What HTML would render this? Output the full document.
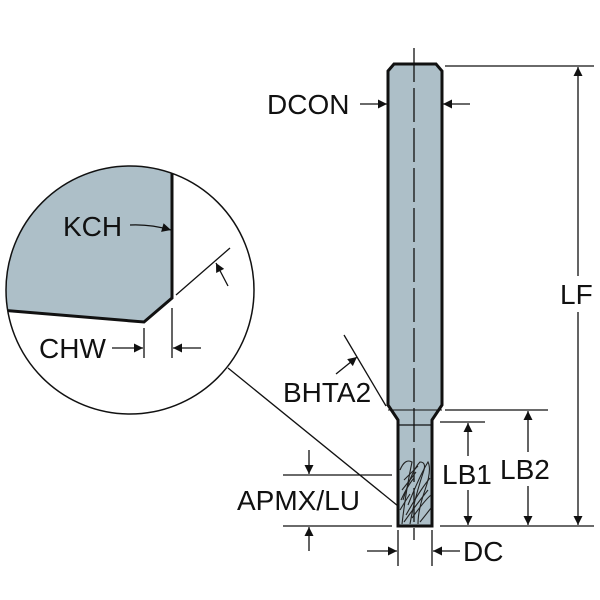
<!DOCTYPE html>
<html><head><style>body{margin:0;background:#fff}svg{display:block}text{font-family:"Liberation Sans",Arial,sans-serif;font-size:28px;fill:#111}</style></head>
<body>
<svg width="600" height="600" viewBox="0 0 600 600" xmlns="http://www.w3.org/2000/svg">
<defs>
<marker id="a" viewBox="0 0 10 10" refX="10" refY="5" markerWidth="17" markerHeight="9" markerUnits="userSpaceOnUse" orient="auto"><path d="M0,0L10,5L0,10z" fill="#111"/></marker>
<clipPath id="c"><circle cx="130" cy="290" r="124"/></clipPath>
</defs>
<g clip-path="url(#c)">
<path d="M0,150 L172,150 L172,298 L144,322 L0,310 Z" fill="#adbfc8"/>
<path d="M172,150 L172,298 L144,322 L0,310" fill="none" stroke="#111" stroke-width="3"/>
<line x1="176" y1="295" x2="230" y2="248" stroke="#111" stroke-width="1.3"/>
</g>
<circle cx="130" cy="290" r="124" fill="none" stroke="#111" stroke-width="1.5"/>
<text x="63" y="236">KCH</text>
<path d="M130,225 Q150,224 171,230" fill="none" stroke="#111" stroke-width="1.3" marker-end="url(#a)"/>
<line x1="228" y1="286" x2="216" y2="263" stroke="#111" stroke-width="1.3" marker-end="url(#a)"/>
<text x="39" y="358">CHW</text>
<line x1="144" y1="328" x2="144" y2="358" stroke="#111" stroke-width="1.3"/>
<line x1="172" y1="308" x2="172" y2="358" stroke="#111" stroke-width="1.3"/>
<line x1="112" y1="348" x2="143" y2="348" stroke="#111" stroke-width="1.3" marker-end="url(#a)"/>
<line x1="201" y1="348" x2="173" y2="348" stroke="#111" stroke-width="1.3" marker-end="url(#a)"/>
<line x1="228" y1="368" x2="398" y2="506" stroke="#111" stroke-width="1.3"/>
<path d="M388,71 L394,64 L436,64 L442,71 L442,405 L432,420 L432,526 L398,526 L398,420 L388,405 Z" fill="#adbfc8" stroke="#111" stroke-width="3"/>
<line x1="398" y1="425" x2="432" y2="425" stroke="#111" stroke-width="1.3"/>
<line x1="388" y1="410" x2="442" y2="410" stroke="#111" stroke-width="1"/>
<line x1="414" y1="48" x2="414" y2="540" stroke="#111" stroke-width="1.3" stroke-dasharray="34,6"/>
<g stroke="#222" stroke-width="1.1" fill="none">
<path d="M400,470 Q405,458 412,462 Q406,490 402,524"/>
<path d="M403,500 Q412,470 420,462 Q426,462 424,470 Q414,500 410,524"/>
<path d="M408,505 Q420,475 428,462 Q432,470 425,490 Q418,510 418,524"/>
<path d="M404,480 Q414,470 418,466"/><path d="M406,515 Q420,490 430,478"/>
<path d="M402,490 Q410,480 416,472"/><path d="M412,518 Q425,500 431,495"/>
<path d="M420,522 Q428,512 431,508"/><path d="M400,510 Q406,500 410,494"/>
<path d="M401,500 Q408,485 414,478"/><path d="M404,522 Q416,505 428,490"/>
</g>
<text x="267" y="114">DCON</text>
<line x1="360" y1="104" x2="387" y2="104" stroke="#111" stroke-width="1.3" marker-end="url(#a)"/>
<line x1="470" y1="104" x2="443" y2="104" stroke="#111" stroke-width="1.3" marker-end="url(#a)"/>
<line x1="445" y1="66" x2="594" y2="66" stroke="#111" stroke-width="1.3"/>
<line x1="440" y1="526" x2="594" y2="526" stroke="#111" stroke-width="1.3"/>
<line x1="578" y1="276" x2="578" y2="67" stroke="#111" stroke-width="1.3" marker-end="url(#a)"/>
<line x1="578" y1="312" x2="578" y2="525" stroke="#111" stroke-width="1.3" marker-end="url(#a)"/>
<text x="560" y="304">LF</text>
<line x1="445" y1="410" x2="548" y2="410" stroke="#111" stroke-width="1.3"/>
<line x1="528" y1="452" x2="528" y2="411" stroke="#111" stroke-width="1.3" marker-end="url(#a)"/>
<line x1="528" y1="486" x2="528" y2="525" stroke="#111" stroke-width="1.3" marker-end="url(#a)"/>
<text x="500" y="479">LB2</text>
<line x1="440" y1="422" x2="485" y2="422" stroke="#111" stroke-width="1.3"/>
<line x1="468" y1="456" x2="468" y2="423" stroke="#111" stroke-width="1.3" marker-end="url(#a)"/>
<line x1="468" y1="490" x2="468" y2="525" stroke="#111" stroke-width="1.3" marker-end="url(#a)"/>
<text x="442" y="484">LB1</text>
<line x1="344" y1="335" x2="386" y2="406" stroke="#111" stroke-width="1.3"/>
<line x1="336" y1="374" x2="357" y2="357" stroke="#111" stroke-width="1.3" marker-end="url(#a)"/>
<text x="283" y="402">BHTA2</text>
<line x1="283" y1="475" x2="392" y2="475" stroke="#111" stroke-width="1.3"/>
<line x1="283" y1="526" x2="392" y2="526" stroke="#111" stroke-width="1.3"/>
<line x1="309" y1="450" x2="309" y2="474" stroke="#111" stroke-width="1.3" marker-end="url(#a)"/>
<line x1="309" y1="551" x2="309" y2="527" stroke="#111" stroke-width="1.3" marker-end="url(#a)"/>
<text x="237" y="510">APMX/LU</text>
<line x1="398" y1="530" x2="398" y2="566" stroke="#111" stroke-width="1.3"/>
<line x1="432" y1="530" x2="432" y2="566" stroke="#111" stroke-width="1.3"/>
<line x1="367" y1="551" x2="397" y2="551" stroke="#111" stroke-width="1.3" marker-end="url(#a)"/>
<line x1="460" y1="551" x2="433" y2="551" stroke="#111" stroke-width="1.3" marker-end="url(#a)"/>
<text x="463" y="561">DC</text>
</svg>
</body></html>
